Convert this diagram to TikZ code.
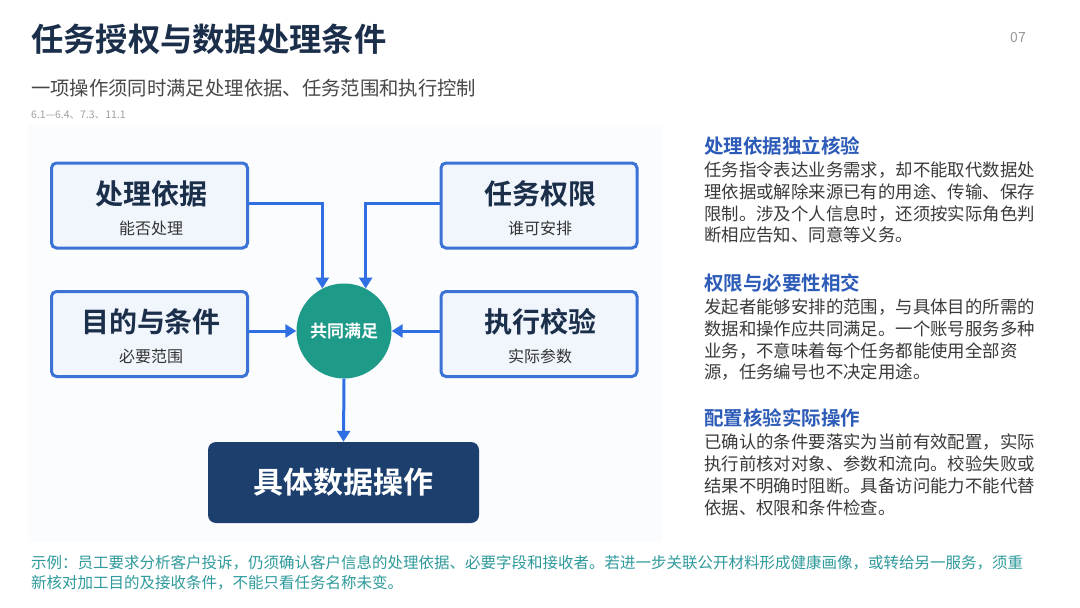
\documentclass[tikz,border=0pt]{standalone}
\usepackage{fontspec}
\setmainfont{Noto Sans CJK SC}[BoldFont={Noto Sans CJK SC Bold}]
\usetikzlibrary{arrows.meta,positioning,calc}
\definecolor{navy}{HTML}{1B2F4B}
\definecolor{cardline}{HTML}{3A72D6}
\definecolor{cardfill}{HTML}{F1F6FD}
\definecolor{arrowblue}{HTML}{2F6FE3}
\definecolor{teal}{HTML}{1E9A88}
\definecolor{darkbox}{HTML}{1C3F6E}
\definecolor{headblue}{HTML}{2D5BB8}
\definecolor{bodygray}{HTML}{3A3A3A}
\definecolor{exteal}{HTML}{2F9A9C}
\definecolor{panel}{HTML}{FBFCFD}
\tikzset{
  card/.style={draw=cardline, line width=3pt, fill=cardfill, rounded corners=5pt, minimum width=196pt, minimum height=85pt, inner sep=0pt},
  cardtitle/.style={text=navy, font=\fontsize{28}{32}\selectfont\bfseries, inner sep=0pt},
  cardsub/.style={text=bodygray!90!black, font=\fontsize{16}{18}\selectfont, inner sep=0pt},
  arr/.style={draw=arrowblue, line width=3pt, -{Triangle[width=13pt,length=11pt]}},
  head/.style={text=headblue, font=\fontsize{19.5}{22}\selectfont\bfseries, anchor=west, inner sep=0pt},
  body/.style={text=bodygray, font=\fontsize{17.4}{21.7}\selectfont, anchor=north west, align=left, inner sep=0pt},
}
\begin{document}
\begin{tikzpicture}[x=1pt,y=-1pt]
\useasboundingbox (0,0) rectangle (1080,608);
\fill[white] (0,0) rectangle (1080,608);
\fill[panel] (28,125) rectangle (662,542);
% header
\node[anchor=west, text=navy, font=\fontsize{32.3}{36}\selectfont\bfseries, inner sep=0pt] (title) at (31,39) {任务授权与数据处理条件};
\node[text=gray!80, font=\fontsize{14}{16}\selectfont, inner sep=0pt] (pageno) at (1018,38) {07};
\node[anchor=west, text=black!72, font=\fontsize{19.35}{22}\selectfont, inner sep=0pt] (subtitle) at (31,88) {一项操作须同时满足处理依据、任务范围和执行控制};
\node[anchor=west, text=gray!75, font=\fontsize{10.5}{12}\selectfont, inner sep=0pt] (refs) at (31,115) {6.1—6.4、7.3、11.1};
% cards
\node[card] (b1) at (149.5,205.5) {};
\node[cardtitle] (b1t) at (151,194) {处理依据};
\node[cardsub] (b1s) at (151,228) {能否处理};
\node[card] (b2) at (539,205.5) {};
\node[cardtitle] (b2t) at (540,194) {任务权限};
\node[cardsub] (b2s) at (540,228) {谁可安排};
\node[card] (b3) at (149.5,334) {};
\node[cardtitle] (b3t) at (151,322) {目的与条件};
\node[cardsub] (b3s) at (151,356) {必要范围};
\node[card] (b4) at (539,334) {};
\node[cardtitle] (b4t) at (540,322) {执行校验};
\node[cardsub] (b4s) at (540,356) {实际参数};
% center
\node[circle, fill=teal, minimum size=95pt, inner sep=0pt, text=white, font=\fontsize{17}{20}\selectfont\bfseries] (c) at (344,331) {共同满足};
% result
\node[fill=darkbox, rounded corners=8pt, minimum width=271pt, minimum height=81pt, inner sep=0pt, text=white, font=\fontsize{30}{34}\selectfont\bfseries] (res) at (343.5,482.5) {具体数据操作};
% arrows
\coordinate (b1out) at ($(b1.east)+(0,-2.5)$);
\coordinate (b2out) at ($(b2.west)+(0,-2.5)$);
\draw[arr] (b1out) -| (c.117);
\draw[arr] (b2out) -| (c.63);
\draw[arr] (b3.east |- c.west) -- (c.west);
\draw[arr] (b4.west |- c.east) -- (c.east);
\draw[arr] (c.south) -- (res.north);
% right column
\node[head] (h1) at (704,146) {处理依据独立核验};
\node[body] (p1) at (704,162) {任务指令表达业务需求，却不能取代数据处\\理依据或解除来源已有的用途、传输、保存\\限制。涉及个人信息时，还须按实际角色判\\断相应告知、同意等义务。};
\node[head] (h2) at (704,283) {权限与必要性相交};
\node[body] (p2) at (704,299) {发起者能够安排的范围，与具体目的所需的\\数据和操作应共同满足。一个账号服务多种\\业务，不意味着每个任务都能使用全部资\\源，任务编号也不决定用途。};
\node[head] (h3) at (704,418) {配置核验实际操作};
\node[body] (p3) at (704,434) {已确认的条件要落实为当前有效配置，实际\\执行前核对对象、参数和流向。校验失败或\\结果不明确时阻断。具备访问能力不能代替\\依据、权限和条件检查。};
% example
\node[anchor=north west, align=left, text=exteal, font=\fontsize{15.5}{20.5}\selectfont, inner sep=0pt] (ex) at (31,555) {示例：员工要求分析客户投诉，仍须确认客户信息的处理依据、必要字段和接收者。若进一步关联公开材料形成健康画像，或转给另一服务，须重\\新核对加工目的及接收条件，不能只看任务名称未变。};
\end{tikzpicture}
\end{document}
